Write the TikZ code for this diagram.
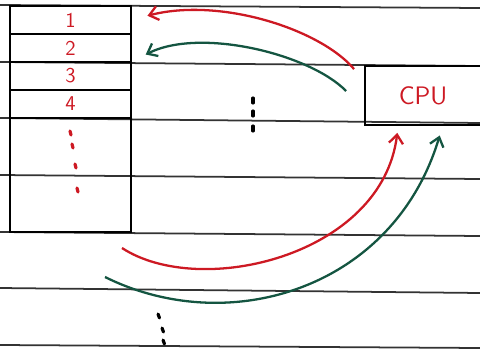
\documentclass[tikz,border=0pt]{standalone}
\usetikzlibrary{positioning}
\usetikzlibrary{arrows.meta}
\definecolor{redink}{RGB}{205,25,35}
\definecolor{greenink}{RGB}{20,85,65}

\begin{document}
\begin{tikzpicture}[x=0.02cm, y=0.02cm, line width=1.1pt, rule/.style = {draw=black!80, line width=1pt}, cell/.style = {draw, outer sep=0pt, inner sep=0pt, minimum width=2.42cm, minimum height=0.56cm, font=\sffamily\large, text=redink}, redpen/.style = {draw=redink, line width=1.3pt}, greenpen/.style = {draw=greenink, line width=1.3pt}, tip/.style = {-{Straight Barb[length=5pt, width=8pt]}}, dot/.style = {line width=1.8pt, line cap=round}]
        \useasboundingbox (0,0) rectangle (480,349);
        % ruled paper
        \foreach \l/\r in {344/341, 287/283, 231/226, 174/170, 117/113, 61/56, 4/1}
            \draw[rule] (0,\l) -- (480,\r);
        % memory
        \node[cell] (c1) at (70.5,329) {1};
        \node[cell, below=0pt of c1] (c2) {2};
        \node[cell, below=0pt of c2] (c3) {3};
        \node[cell, below=0pt of c3] (c4) {4};
        \node[cell, minimum height=2.28cm, below=0pt of c4] (c5) {};
        \foreach \x/\y in {70/218, 72/205, 75/185, 77/161}
            \draw[dot, redink] (\x,\y) -- ++(1,-4);
        % cpu
        \node[minimum width=2.28cm, minimum height=1.14cm, inner sep=0pt, font=\sffamily\Large, text=redink] (cpu) at (423,253.5) {CPU};
        \draw (cpu.north east) -- (cpu.north west) -- (cpu.south west) -- (cpu.south east);
        \foreach \y in {251, 238, 223}
            \draw[dot] (253,\y) -- ++(0,-5);
        \foreach \x/\y in {158/35, 162/21, 163/9}
            \draw[dot] (\x,\y) -- ++(1.5,-4);
        \coordinate (rs) at ([xshift=-0.22cm, yshift=-0.06cm]cpu.north west);
        \coordinate (gs) at ([xshift=-0.38cm, yshift=0.09cm]cpu.west);
        \coordinate (r0) at (122,101);
        \coordinate (g0) at (105,72);
        \draw[redpen, tip, shorten >=0.34cm] (rs) .. controls (320,320) and (220,352) .. (c1.east);
        \draw[greenpen, tip, shorten >=0.33cm] (gs) .. controls (310,295) and (200,322) .. (c2.south east);
        \draw[redpen, tip, shorten >=0.16cm] (r0) .. controls (200,50) and (382,93) .. (cpu.230);
        \draw[greenpen, tip, shorten >=0.22cm] (g0) .. controls (230,10) and (394,61) .. (cpu.304);
    \end{tikzpicture}
\end{document}
